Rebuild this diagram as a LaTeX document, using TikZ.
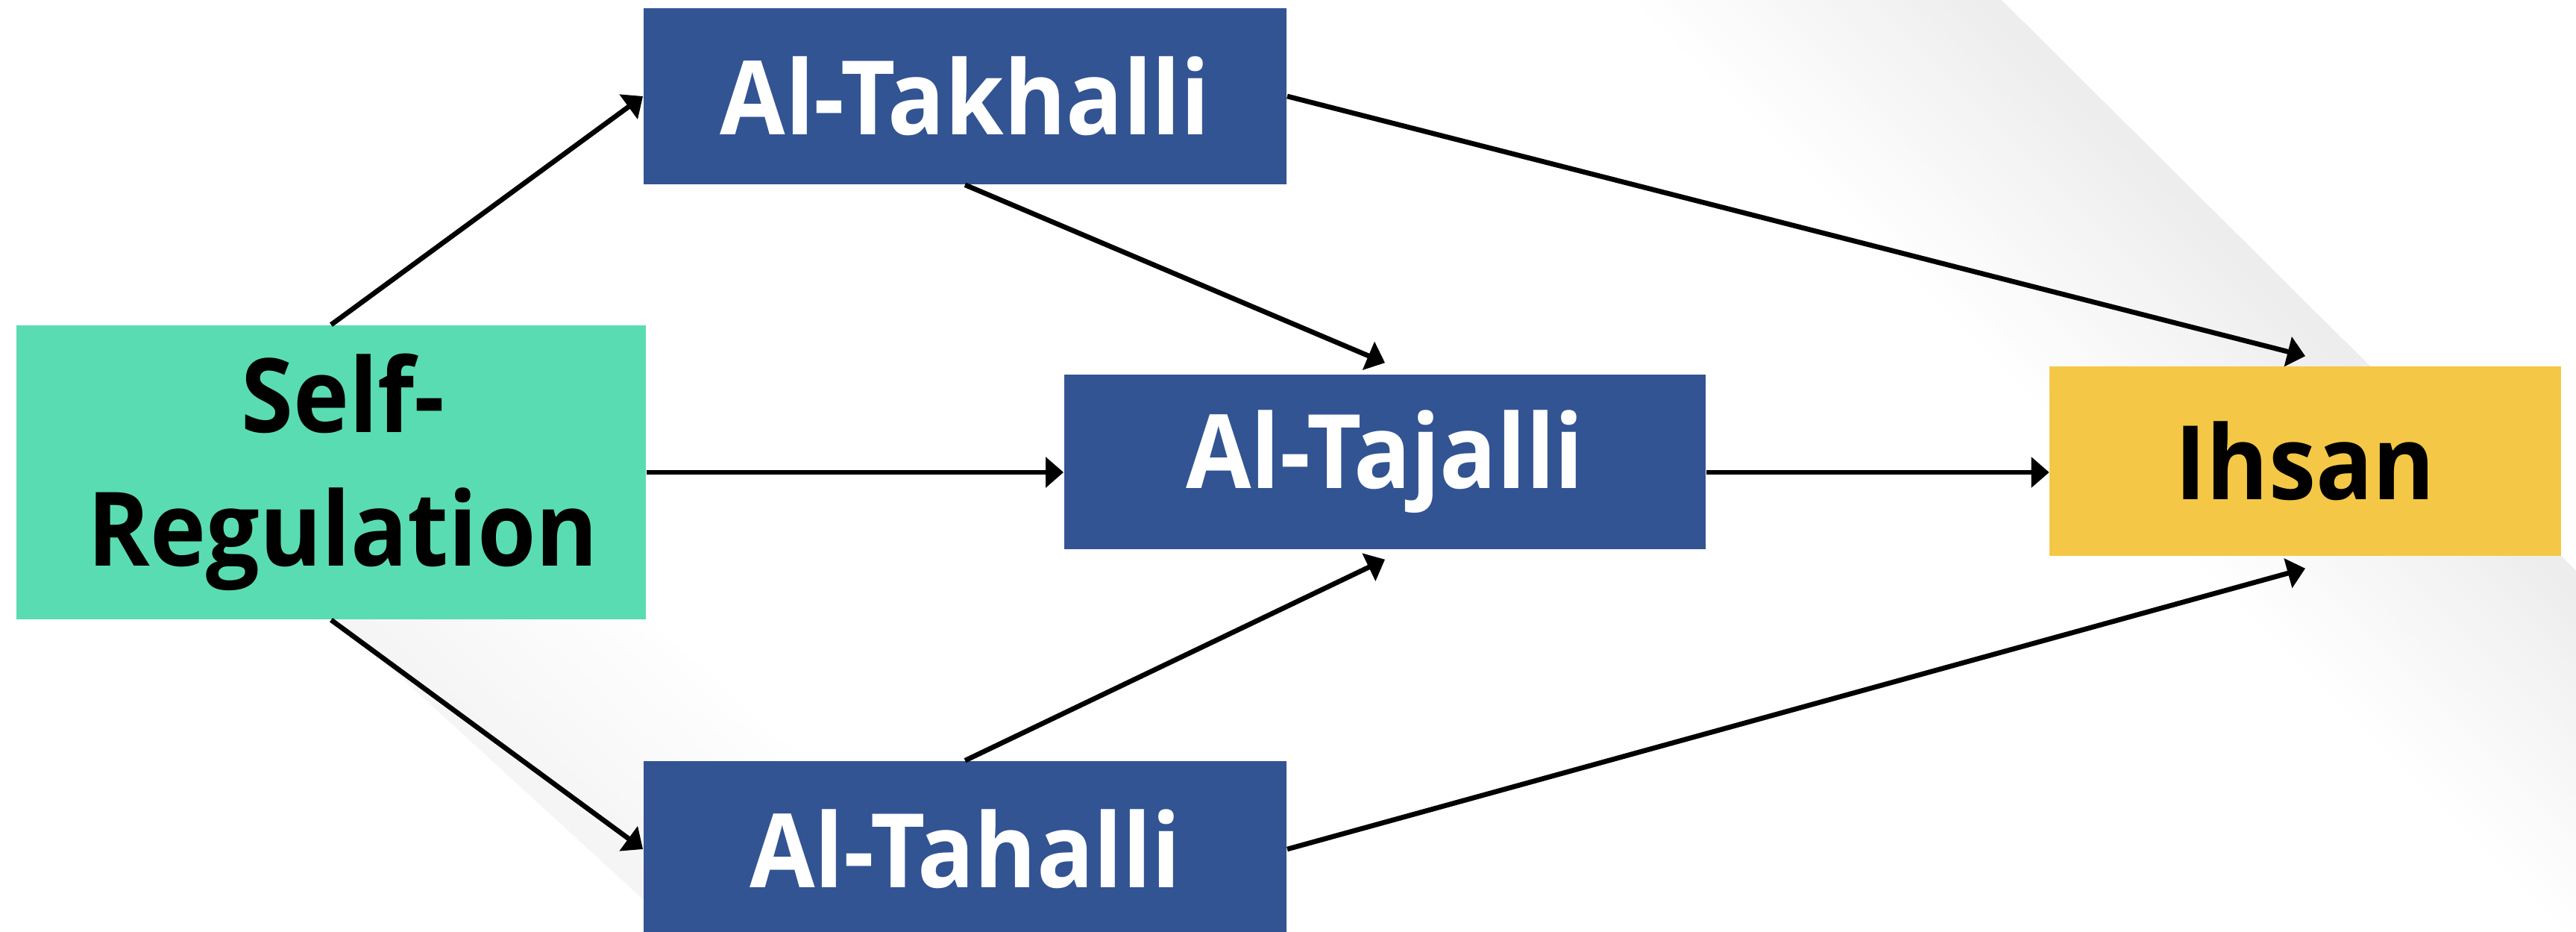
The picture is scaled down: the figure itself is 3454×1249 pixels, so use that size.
\documentclass[tikz,border=0pt]{standalone}
\usepackage{fontspec}
\setmainfont{Open Sans}
\newfontfamily\boxfont{Open Sans}[FakeStretch=0.92]
\usepackage{xcolor}
\usepackage{tikz}
\usetikzlibrary{positioning, arrows.meta}

\definecolor{mint}{HTML}{5ADCB2}
\definecolor{navy}{HTML}{335493}
\definecolor{gold}{HTML}{F4C846}

\begin{document}
\begin{tikzpicture}[x=0.01cm, y=-0.01cm,
  box/.style={inner sep=0pt, align=center,
              font=\boxfont\bfseries\fontsize{39.2}{50.9}\selectfont},
  stage/.style={box, fill=navy, text=white,
                minimum width=8.62cm, minimum height=2.36cm},
  arr/.style={-{Triangle[length=0.24cm, width=0.4cm]}, line width=1.9pt}
]
  \useasboundingbox (0,0) rectangle (3454,1249);

  % faint background bands
  \begin{scope}[shift={(2683,0)}, rotate=-44.8]
    \foreach \i [evaluate=\i as \tone using 7.5-0.25*\i] in {30,29,...,1}
      \fill[black!\tone] (-900,0) rectangle (1700,12*\i);
  \end{scope}
  \begin{scope}[shift={(459,835)}, rotate=-42.5]
    \foreach \i [evaluate=\i as \tone using 4.2-0.14*\i] in {30,29,...,1}
      \fill[black!\tone] (-250,0) rectangle (700,-10*\i);
  \end{scope}

  \node[box, fill=mint, minimum width=8.44cm, minimum height=3.94cm]
        (sr) at (444,633) {\hspace*{0.32cm}Self-\\\hspace*{0.32cm}Regulation};
  \node[stage] (tk) at (1294,129) {Al-Takhalli};
  \node[stage, minimum width=8.60cm, minimum height=2.34cm]
        (tj) at (1857,619) {Al-Tajalli};
  \node[stage] (th) at (1294,1138) {Al-Tahalli};
  \node[box, fill=gold, minimum width=6.85cm, minimum height=2.54cm]
        (ih) at (3091,618) {Ihsan};

  \draw[arr] (sr.north) -- (tk.west);
  \draw[arr] (sr.south) -- (th.west);
  \draw[arr] (sr.east)  -- (sr.east -| tj.west);
  \draw[arr] (tk.south) -- ([yshift=0.15cm]tj.north);
  \draw[arr] (th.north) -- ([yshift=-0.13cm]tj.south);
  \draw[arr] (tk.east)  -- ([yshift=0.13cm]ih.north);
  \draw[arr] (tj.east |- sr.east) -- (ih.west |- sr.east);
  \draw[arr] (th.east)  -- ([yshift=-0.16cm]ih.south);
\end{tikzpicture}
\end{document}
